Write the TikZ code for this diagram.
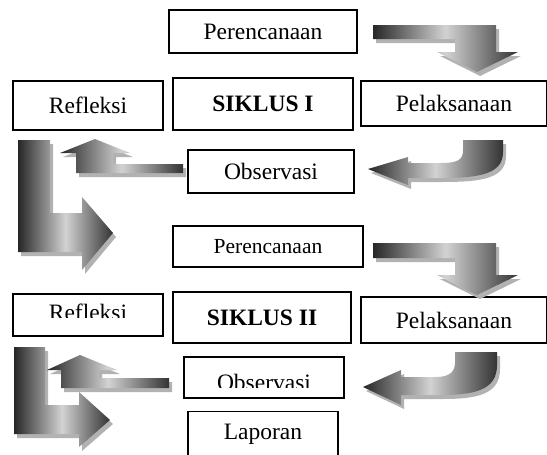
\documentclass[tikz,border=0pt]{standalone}
\usepackage{fontspec}
\setmainfont{Liberation Serif}
\usepackage{tikz}

\begin{document}
\begin{tikzpicture}[x=1pt, y=-1pt,
    kotak/.style={draw, line width=1.2pt, inner sep=0pt, font=\fontsize{23.5}{28}\selectfont},
    tulisan/.style={inner sep=0pt, font=\fontsize{23.5}{28}\selectfont},
    bayang/.style={fill=gray!60, draw=none},
    panah/.style={left color=black!85, right color=black!80, middle color=gray!35}
]
    \useasboundingbox (0,0) rectangle (547,455);

    % Kotak siklus I.
    \node[kotak, minimum width=188, minimum height=43] (ren1) at (263,31.5) {Perencanaan};
    \node[kotak, minimum width=150, minimum height=49] (ref1) at (88,105.5) {Refleksi};
    \node[kotak, minimum width=180, minimum height=52] (sik1) at (263,104) {\textbf{SIKLUS I}};
    \node[kotak, minimum width=186, minimum height=45] (pel1) at (454,103.5) {Pelaksanaan};
    \node[kotak, minimum width=166, minimum height=43] (obs1) at (271,171.5) {Observasi};

    % Kotak siklus II.
    \node[kotak, minimum width=190, minimum height=41, font=\fontsize{21.5}{26}\selectfont] (ren2) at (268,246.5) {Perencanaan};
    \node[kotak, minimum width=150, minimum height=42] (ref2) at (88,315) {};
    \node[kotak, minimum width=178, minimum height=51] (sik2) at (262,317.5) {\textbf{SIKLUS II}};
    \node[kotak, minimum width=186, minimum height=46] (pel2) at (454,320) {Pelaksanaan};
    \node[kotak, minimum width=160, minimum height=41] (obs2) at (264,377.5) {};
    \node[kotak, minimum width=150, minimum height=45] (lap) at (263,434) {Laporan};

    % Tulisan yang terpotong.
    \begin{scope}
        \clip (13,294) rectangle (163,317);
        \node[tulisan, anchor=base] (ref2t) at (88,320.5) {Refleksi};
    \end{scope}
    \begin{scope}
        \clip (184,357) rectangle (344,387.5);
        \node[tulisan, anchor=base] (obs2t) at (264,390.5) {Observasi};
    \end{scope}

    % Panah siklus I.
    \foreach \st/\dx/\dy in {bayang/3/4, panah/0/0}
    {
        \path[\st, shift={(\dx,\dy)}] (373,25) -- (496,25) -- (496,52) -- (518,52) -- (477,72)
            -- (437,52) -- (455,52) -- (455,39) -- (373,39) -- cycle;
        \path[\st, shift={(\dx,\dy)}] (463,140) -- (503,140) -- (503,152)
            .. controls (503,174) and (480,178) .. (440,178) -- (408,178) -- (408,185) -- (368,169)
            -- (408,157) -- (408,163) -- (440,163) .. controls (458,163) and (463,160) .. (463,150) -- cycle;
        \path[\st, shift={(\dx,\dy)}] (183,164) -- (113,164) -- (113,153) -- (130,153) -- (95,139)
            -- (60,153) -- (76,153) -- (76,173) -- (183,173) -- cycle;
        \path[\st, shift={(\dx,\dy)}] (18,140) -- (50,140) -- (50,213) -- (82,213) -- (82,197)
            -- (113,233) -- (82,270) -- (82,252) -- (18,252) -- cycle;
    }

    % Panah siklus II.
    \foreach \st/\dx/\dy in {bayang/3/4, panah/0/0}
    {
        \path[\st, shift={(\dx,\dy)}] (373,243) -- (496,243) -- (496,275) -- (518,275) -- (477,295)
            -- (437,275) -- (455,275) -- (455,258) -- (373,258) -- cycle;
        \path[\st, shift={(\dx,\dy)}] (455,352) -- (497,352) -- (497,365)
            .. controls (497,390) and (475,395) .. (440,395) -- (401,395) -- (401,405) -- (363,387)
            -- (401,370) -- (401,377) -- (435,377) .. controls (450,377) and (455,372) .. (455,362) -- cycle;
        \path[\st, shift={(\dx,\dy)}] (169,378) -- (99,378) -- (99,370) -- (117,370) -- (80,355)
            -- (47,370) -- (61,370) -- (61,388) -- (169,388) -- cycle;
        \path[\st, shift={(\dx,\dy)}] (14,347) -- (45,347) -- (45,405) -- (79,405) -- (79,392)
            -- (110,420) -- (79,447) -- (79,434) -- (14,434) -- cycle;
    }
\end{tikzpicture}
\end{document}
